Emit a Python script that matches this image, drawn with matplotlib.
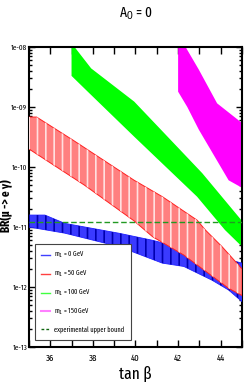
import os
import matplotlib
matplotlib.use("Agg")
import matplotlib.pyplot as plt
from matplotlib.lines import Line2D
from matplotlib import font_manager
from matplotlib.font_manager import FontProperties

plt.rcParams['font.family'] = ['Liberation Sans', 'DejaVu Sans']
plt.rcParams['mathtext.fontset'] = 'custom'
plt.rcParams['mathtext.rm'] = 'Liberation Sans'
plt.rcParams['mathtext.it'] = 'Liberation Sans:italic'
plt.rcParams['mathtext.bf'] = 'Liberation Sans:bold'
plt.rcParams['hatch.linewidth'] = 1.2


def _w(v):
    if isinstance(v, (int, float)):
        return v
    return font_manager.weight_dict.get(str(v), 400)


def find_font(bold=False):
    best = None
    for f in font_manager.fontManager.ttflist:
        base = os.path.basename(f.fname)
        if 'DejaVu' in f.name or 'Mono' in f.name or 'Serif' in f.name:
            continue
        if f.style != 'normal' or 'Italic' in base:
            continue
        key = base + ' ' + f.name + ' ' + str(f.stretch)
        if 'ExtraCondensed' in key.replace(' ', '').replace('-', '') or 'extra-condensed' in key:
            rank, kind = 0, 'xc'
        elif 'SemiCondensed' in key.replace(' ', '') or 'semi-condensed' in key:
            continue
        elif 'Condensed' in key or 'condensed' in key or 'Narrow' in key:
            rank, kind = 10, 'c'
        else:
            continue
        if 'Ultra' in key:
            continue
        score = rank + abs(_w(f.weight) - (700 if bold else 400)) / 100.0
        if best is None or score < best[0]:
            best = (score, f.fname, kind)
    return best


_r = find_font(False)
_b = find_font(True)
KIND = _r[2] if _r else None


def fp(size, bold=False):
    info = _b if bold else _r
    if info:
        return FontProperties(fname=info[1], size=size)
    return FontProperties(family='Liberation Sans', size=size,
                          weight='bold' if bold else 'normal')


def pick(xc, c, lib):
    return xc if KIND == 'xc' else (c if KIND == 'c' else lib)


# ---- data ----
title = "A$_0$ = 0"
xlabel = "tan β"
ylabel = "BR(μ -> e γ)"

x_ticks = [36, 38, 40, 42, 44]
x_minor = [35, 37, 39, 41, 43, 45]
y_ticks = [1e-13, 1e-12, 1e-11, 1e-10, 1e-9, 1e-8]
y_tick_labels = ["1e-13", "1e-12", "1e-11", "1e-10", "1e-09", "1e-08"]

labels = ["m$_1$ = 0 GeV", "m$_1$ = 50 GeV", "m$_1$ = 100 GeV", "m$_1$ = 150 GeV",
          "experimental upper bound"]

# m = 0 (blue)
b_up_x = [35.0, 35.75, 36.68, 39.24, 40.80, 42.27, 45.0]
b_up_y = [1.58e-11, 1.58e-11, 1.15e-11, 7.85e-12, 6.0e-12, 4.4e-12, 2.5e-12]
b_lo_x = [35.0, 36.68, 39.24, 41.26, 42.27, 43.59, 44.37, 45.0]
b_lo_y = [1.0e-11, 7.9e-12, 4.7e-12, 2.5e-12, 2.2e-12, 1.3e-12, 8.9e-13, 5.7e-13]

# m = 50 (red)
r_up_x = [35.0, 35.36, 37.07, 39.94, 41.26, 42.89, 43.28, 44.06, 45.0]
r_up_y = [6.8e-10, 6.8e-10, 2.8e-10, 6.0e-11, 3.2e-11, 1.3e-11, 8.9e-12, 4.7e-12, 2.0e-12]
r_lo_x = [35.0, 37.6, 39.94, 40.8, 42.27, 44.37, 45.0]
r_lo_y = [2.0e-10, 5.0e-11, 1.26e-11, 6.9e-12, 3.4e-12, 9.5e-13, 7.2e-13]

# m = 100 (green)
g_up_x = [37.0, 37.14, 37.92, 39.94, 41.19, 43.13, 45.0]
g_up_y = [1.0e-8, 1.0e-8, 4.4e-9, 1.23e-9, 4.2e-10, 7.9e-11, 1.26e-11]
g_lo_x = [37.0, 37.76, 39.94, 42.89, 44.2, 45.0]
g_lo_y = [3.3e-9, 1.8e-9, 3.2e-10, 3.2e-11, 8.9e-12, 4.7e-12]

# m = 150 (magenta)
m_up_x = [42.0, 42.35, 42.97, 43.83, 45.0]
m_up_y = [1.0e-8, 1.0e-8, 4.2e-9, 1.15e-9, 5.4e-10]
m_lo_x = [42.0, 42.43, 42.97, 44.37, 45.0]
m_lo_y = [1.8e-9, 1.0e-9, 4.2e-10, 6.0e-11, 4.5e-11]

bound = 1.2e-11

# ---- figure ----
fig = plt.figure(figsize=(2.45, 3.82), dpi=100)
ax = fig.add_axes([0.118, 0.0916, 0.870, 0.7854])
ax.set_yscale('log')
ax.set_xlim(35, 45)
ax.set_ylim(1e-13, 1e-8)


def band(ux, uy, lx, ly):
    return list(ux) + list(lx)[::-1], list(uy) + list(ly)[::-1]


px, py = band(g_up_x, g_up_y, g_lo_x, g_lo_y)
ax.fill(px, py, facecolor='#00ff00', edgecolor='none', zorder=2)

px, py = band(m_up_x, m_up_y, m_lo_x, m_lo_y)
ax.fill(px, py, facecolor='#ff00ff', edgecolor='none', zorder=2)

px, py = band(b_up_x, b_up_y, b_lo_x, b_lo_y)
ax.fill(px, py, facecolor='#3a3aff', edgecolor='#2020ff', linewidth=0.6, zorder=3)
ax.fill(px, py, facecolor='none', edgecolor='#0000b0', hatch='||', linewidth=0, zorder=3)

px, py = band(r_up_x, r_up_y, r_lo_x, r_lo_y)
ax.fill(px, py, facecolor='#ff8080', edgecolor='#ff2020', linewidth=0.7, zorder=4)
ax.fill(px, py, facecolor='none', edgecolor='#ffe0e0', hatch='||', linewidth=0, zorder=4)

ax.axhline(bound, color='#229922', linestyle=(0, (4, 2)), linewidth=1.0, zorder=5)

# ticks
ax.set_xticks(x_ticks)
ax.set_xticks(x_minor, minor=True)
ax.set_yticks(y_ticks)
ax.set_yticklabels(y_tick_labels)
ax.tick_params(axis='both', which='both', direction='in', top=True, right=True, width=1.0)
ax.tick_params(axis='x', which='both', length=5)
ax.tick_params(axis='y', which='major', length=4)
ax.tick_params(axis='y', which='minor', length=2)
ax.tick_params(axis='x', pad=5)
ax.tick_params(axis='y', pad=1)
tick_fp_y = fp(pick(5.6, 5.0, 4.8))
tick_fp_x = fp(pick(6.8, 6.0, 5.5))
for t in ax.get_yticklabels():
    t.set_fontproperties(tick_fp_y)
for t in ax.get_xticklabels():
    t.set_fontproperties(tick_fp_x)
for s in ax.spines.values():
    s.set_linewidth(1.5)

ax.set_xlabel(xlabel, fontproperties=fp(pick(12, 11, 10)), labelpad=2)
ax.set_ylabel(ylabel, fontproperties=fp(pick(8.8, 8.0, 7.5), bold=True))
ax.yaxis.set_label_coords(-0.076, 0.47)
fig.text(0.555, 0.963, title, ha='center', va='center',
         fontproperties=fp(pick(10.5, 9.5, 9)))

handles = [
    Line2D([], [], color='#4040ff', lw=1),
    Line2D([], [], color='#ff4040', lw=1),
    Line2D([], [], color='#40ff40', lw=1),
    Line2D([], [], color='#ff80ff', lw=1.5),
    Line2D([], [], color='#116611', lw=1, linestyle=(0, (2, 1.5))),
]
leg = ax.legend(handles, labels, loc='lower left', bbox_to_anchor=(0.028, 0.025),
                prop=fp(pick(5.0, 4.2, 4.3)), frameon=True, fancybox=False,
                edgecolor='#444444', framealpha=1, handlelength=1.3, handletextpad=0.6,
                labelspacing=pick(1.25, 1.45, 1.5), borderpad=0.9, borderaxespad=0)
leg.get_frame().set_linewidth(0.8)
leg.set_zorder(6)

fig.savefig("out.png", dpi=100)
